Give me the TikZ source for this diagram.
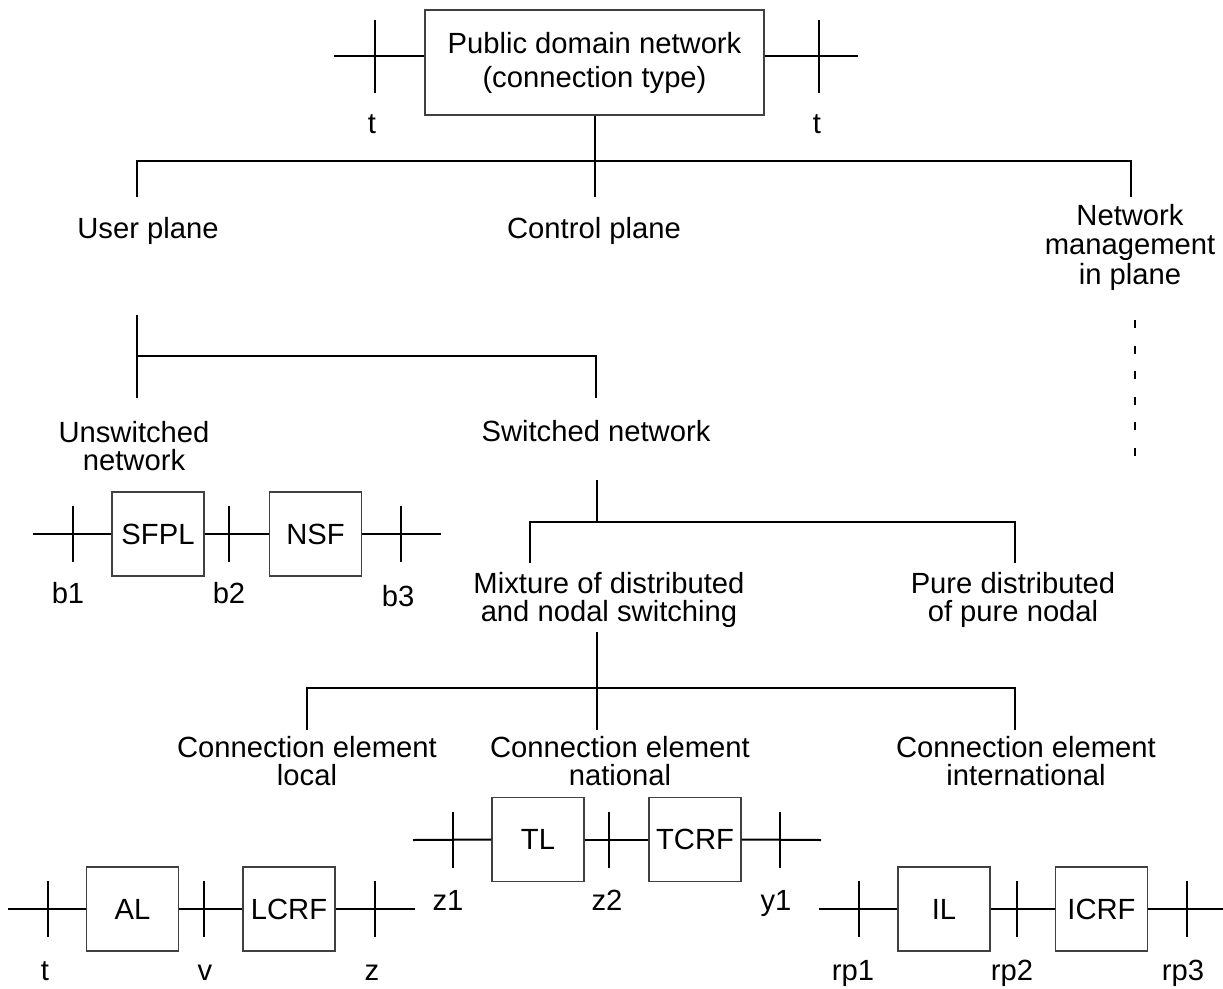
\documentclass[tikz,border=0pt]{standalone}
\usepackage{fontspec}
\setmainfont{Liberation Sans}
% centred stack of lines; the baseline is that of the first line
\newcommand\stk[1]{\vtop{\halign{\hfil##\hfil\cr#1\cr}}}
\begin{document}
\begin{tikzpicture}[x=1pt,y=-1pt,
  lbl/.style={font=\fontsize{29.2}{28.5}\selectfont, inner sep=0pt, anchor=base},
  blk/.style={draw=black!75, line width=1.1pt, minimum width=92pt, minimum height=84pt,
              inner sep=0pt, font=\fontsize{29.2}{28.5}\selectfont},
  wire/.style={line width=2pt},
  refpt/.style={line width=2pt}
]
\useasboundingbox (0,0) rectangle (1223,988);

% ---------- top: the connection type ----------
\node[draw=black!75, line width=1.1pt, minimum width=339pt, minimum height=105pt, inner sep=0pt,
      align=center, font=\fontsize{29.2}{34}\selectfont] (top) at (594.5,62.5)
      {Public domain network\\(connection type)};
\coordinate (topL) at (334,56);
\coordinate (topR) at (858,56);
\coordinate (tk1) at (375,56);
\coordinate (tk2) at (819,56);
\draw[wire] (topL) -- (topL -| top.west);
\draw[wire] (topR -| top.east) -- (topR);
\foreach \k in {tk1,tk2} \draw[refpt] ([yshift=36pt]\k) -- ([yshift=-37pt]\k);
\node[lbl] (tA) at (372,133) {t};
\node[lbl] (tB) at (817,133) {t};

% ---------- planes ----------
\coordinate (stem0) at (594.5,197);
\coordinate (barL) at (137,161);
\coordinate (barR) at (1131,161);
\coordinate (upT) at (137,197);
\coordinate (nmT) at (1131,197);
\draw[wire] (top.south) -- (stem0);
\draw[wire] (upT) -- (barL) -- (barR) -- (nmT);

\node[lbl] (up) at (148,238) {User plane};
\node[lbl] (cp) at (594,238) {Control plane};
\node[lbl, font=\fontsize{29.2}{29.5}\selectfont] (nm) at (1130,225) {\stk{Network\cr management\cr in plane}};

\coordinate (dotA) at (1135,320);
\coordinate (dotB) at (1135,457);
\draw[line width=2.6pt, dash pattern=on 8pt off 17.6pt] (dotA) -- (dotB);

% ---------- user plane ----------
\coordinate (uA) at (137,315);
\coordinate (uB) at (137,398);
\coordinate (uC) at (137,356);
\coordinate (uD) at (596,356);
\coordinate (uE) at (596,398);
\draw[wire] (uA) -- (uB);
\draw[wire] (uC) -- (uD) -- (uE);

\node[lbl] (uns) at (134,442) {\stk{Unswitched\cr network}};
\node[lbl] (sw) at (596,441) {Switched network};

% unswitched chain
\node[blk] (sfpl) at (158,534) {SFPL};
\node[blk] (nsf) at (315.5,534) {NSF};
\coordinate (bL) at (33,534);
\coordinate (bR) at (441,534);
\coordinate (kb1) at (73,534);
\coordinate (kb2) at (229,534);
\coordinate (kb3) at (401,534);
\draw[wire] (bL) -- (sfpl.west);
\draw[wire] (sfpl.east) -- (nsf.west);
\draw[wire] (nsf.east) -- (bR);
\foreach \k in {kb1,kb2,kb3} \draw[refpt] ([yshift=28pt]\k) -- ([yshift=-28pt]\k);
\node[lbl] (b1) at (68,603) {b1};
\node[lbl] (b2) at (229,603) {b2};
\node[lbl] (b3) at (398,606) {b3};

% ---------- switched network ----------
\coordinate (sA) at (597,480);
\coordinate (sB) at (597,522);
\coordinate (sL) at (530,522);
\coordinate (sR) at (1015,522);
\coordinate (sLd) at (530,563);
\coordinate (sRd) at (1015,563);
\draw[wire] (sA) -- (sB);
\draw[wire] (sLd) -- (sL) -- (sR) -- (sRd);

\node[lbl] (mix) at (609,593) {\stk{Mixture of distributed\cr and nodal switching}};
\node[lbl] (pure) at (1013,593) {\stk{Pure distributed\cr of pure nodal}};

\coordinate (mA) at (597,632);
\coordinate (mB) at (597,730);
\coordinate (mL) at (307,688);
\coordinate (mR) at (1015,688);
\coordinate (mLd) at (307,730);
\coordinate (mRd) at (1015,730);
\draw[wire] (mA) -- (mB);
\draw[wire] (mLd) -- (mL) -- (mR) -- (mRd);

\node[lbl] (cel) at (307,757) {\stk{Connection element\cr local}};
\node[lbl] (cen) at (620,757) {\stk{Connection element\cr national}};
\node[lbl] (cei) at (1026,757) {\stk{Connection element\cr international}};

% national chain
\node[blk] (tl) at (538,839.5) {TL};
\node[blk] (tcrf) at (695,839.5) {TCRF};
\coordinate (nL) at (413,840);
\coordinate (nR) at (821,840);
\coordinate (kn1) at (453,840);
\coordinate (kn2) at (609,840);
\coordinate (kn3) at (780,840);
\draw[wire] (nL) -- (tl.west);
\draw[wire] (tl.east) -- (tcrf.west);
\draw[wire] (tcrf.east) -- (nR);
\foreach \k in {kn1,kn2,kn3} \draw[refpt] ([yshift=28pt]\k) -- ([yshift=-28pt]\k);
\node[lbl] (z1) at (448,910) {z1};
\node[lbl] (z2) at (607,910) {z2};
\node[lbl] (y1) at (776,910) {y1};

% local chain
\node[blk] (al) at (132.5,909) {AL};
\node[blk] (lcrf) at (289,909) {LCRF};
\coordinate (lL) at (8,909);
\coordinate (lR) at (415,909);
\coordinate (kl1) at (48,909);
\coordinate (kl2) at (204,909);
\coordinate (kl3) at (375,909);
\draw[wire] (lL) -- (al.west);
\draw[wire] (al.east) -- (lcrf.west);
\draw[wire] (lcrf.east) -- (lR);
\foreach \k in {kl1,kl2,kl3} \draw[refpt] ([yshift=28pt]\k) -- ([yshift=-28pt]\k);
\node[lbl] (tC) at (45,980) {t};
\node[lbl] (vC) at (205,980) {v};
\node[lbl] (zC) at (372,980) {z};

% international chain
\node[blk] (il) at (944,909) {IL};
\node[blk] (icrf) at (1101.5,909) {ICRF};
\coordinate (iL) at (819,909);
\coordinate (iR) at (1223,909);
\coordinate (ki1) at (859,909);
\coordinate (ki2) at (1017,909);
\coordinate (ki3) at (1187,909);
\draw[wire] (iL) -- (il.west);
\draw[wire] (il.east) -- (icrf.west);
\draw[wire] (icrf.east) -- (iR);
\foreach \k in {ki1,ki2,ki3} \draw[refpt] ([yshift=28pt]\k) -- ([yshift=-28pt]\k);
\node[lbl] (rp1) at (853,980) {rp1};
\node[lbl] (rp2) at (1012,980) {rp2};
\node[lbl] (rp3) at (1183,980) {rp3};
\end{tikzpicture}
\end{document}
